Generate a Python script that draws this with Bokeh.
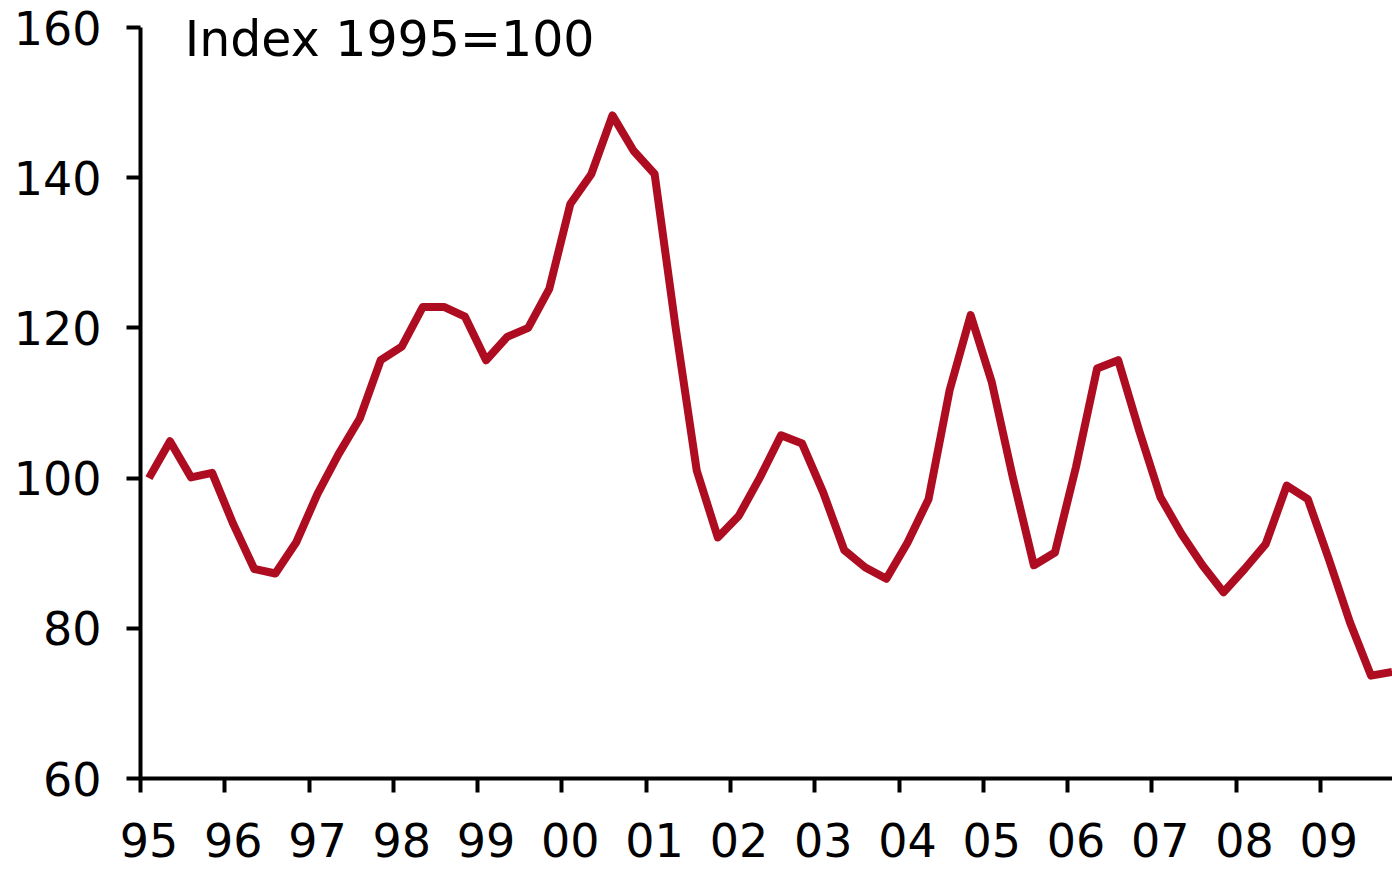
from bokeh.plotting import figure
from bokeh.models import LinearAxis, FixedTicker, Range1d, Label, ColumnDataSource
from bokeh.embed import file_html
from bokeh.resources import INLINE

# ---- data -------------------------------------------------------------
year_labels = ["95", "96", "97", "98", "99", "00", "01", "02",
               "03", "04", "05", "06", "07", "08", "09"]

# quarterly index values, 1995 Q1 .. 2009 Q4 (Index 1995=100)
index_values = [
    100.0, 104.9, 100.1, 100.7, 93.9, 87.9, 87.3, 91.5, 97.9, 103.2,
    107.9, 115.7, 117.5, 122.8, 122.8, 121.5, 115.7, 118.8, 120.0, 125.2,
    136.5, 140.5, 148.3, 143.6, 140.5, 120.0, 101.0, 92.1, 95.0, 100.1,
    105.7, 104.6, 98.1, 90.4, 88.1, 86.6, 91.4, 97.2, 111.7, 121.7,
    112.8, 100.1, 88.4, 90.1, 101.5, 114.6, 115.7, 106.3, 97.5, 92.6,
    88.4, 84.8, 87.9, 91.2, 99.0, 97.2, 89.2, 80.8, 73.7, 74.2,
]
quarter_pos = list(range(len(index_values)))

y_ticks = [60, 80, 100, 120, 140, 160]
title_text = "Index 1995=100"

# ---- styling ---------------------------------------------------------
FONT = "DejaVu Sans"
TICK_SIZE = "46px"
TITLE_SIZE = "49px"
LINE_COLOR = "#AE0D21"

src = ColumnDataSource(data=dict(q=quarter_pos, v=index_values))

p = figure(
    width=1392, height=870,
    x_range=Range1d(-0.4, 59.02), y_range=Range1d(60, 163.6),
    output_backend="svg", toolbar_location=None,
    x_axis_location=None, y_axis_location=None,
    min_border_left=140, min_border_right=0,
    min_border_top=0, min_border_bottom=92,
)
p.outline_line_color = None
p.background_fill_color = "white"
p.border_fill_color = "white"
for g in p.grid:
    g.visible = False

# y axis (line stops at 160)
yaxis = LinearAxis(ticker=FixedTicker(ticks=y_ticks), bounds=(60, 160))
yaxis.axis_line_width = 4
yaxis.axis_line_color = "black"
yaxis.major_tick_line_width = 4
yaxis.major_tick_in = 0
yaxis.major_tick_out = 14
yaxis.minor_tick_line_color = None
yaxis.major_label_text_font = FONT
yaxis.major_label_text_font_size = TICK_SIZE
yaxis.major_label_text_color = "black"
yaxis.major_label_standoff = 25
p.add_layout(yaxis, "left")

# x axis: line and year-boundary tick marks
tick_axis = LinearAxis(ticker=FixedTicker(ticks=[4 * k - 0.4 for k in range(len(year_labels))]))
tick_axis.axis_line_width = 4
tick_axis.axis_line_color = "black"
tick_axis.major_tick_line_width = 4
tick_axis.major_tick_in = 0
tick_axis.major_tick_out = 14
tick_axis.minor_tick_line_color = None
tick_axis.major_label_text_font_size = "0px"
tick_axis.major_label_standoff = 0
tick_axis.major_label_overrides = {4 * k - 0.4: "" for k in range(len(year_labels))}
p.add_layout(tick_axis, "below")

# x axis: year labels at the first quarter of each year
label_axis = LinearAxis(ticker=FixedTicker(ticks=[4 * k for k in range(len(year_labels))]))
label_axis.axis_line_color = None
label_axis.major_tick_line_color = None
label_axis.major_tick_in = 0
label_axis.major_tick_out = 0
label_axis.minor_tick_line_color = None
label_axis.major_label_overrides = {4 * k: lab for k, lab in enumerate(year_labels)}
label_axis.major_label_text_font = FONT
label_axis.major_label_text_font_size = TICK_SIZE
label_axis.major_label_text_color = "black"
label_axis.major_label_standoff = 30
p.add_layout(label_axis, "below")

p.line("q", "v", source=src, line_color=LINE_COLOR, line_width=8, line_join="round")

title = Label(x=1.7, y=158.4, text=title_text, text_font=FONT, text_font_size=TITLE_SIZE,
              text_color="black", text_align="left", text_baseline="middle")
p.add_layout(title)

open("out.html", "w").write(file_html(p, INLINE))
